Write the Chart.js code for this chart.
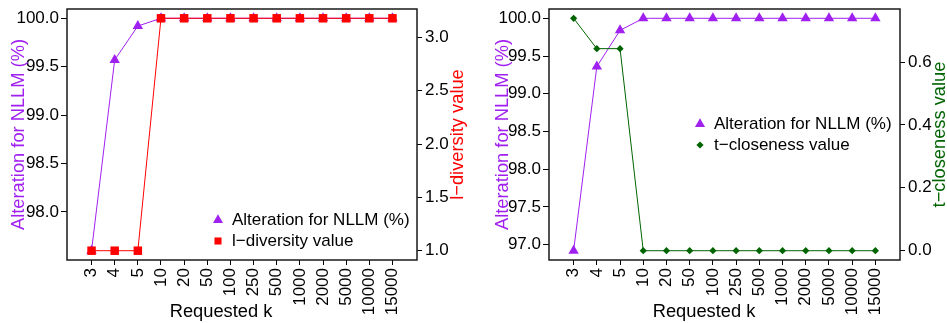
<!DOCTYPE html>
<html>
<head>
<meta charset="utf-8">
<script src="https://cdn.jsdelivr.net/npm/chart.js@4.4.0/dist/chart.umd.min.js"></script>
<style>
  body { margin: 0; background: #fff; }
  canvas { position: absolute; top: 0; }
</style>
</head>
<body>
<canvas id="leftChart" width="474" height="323" style="left:0px"></canvas>
<canvas id="rightChart" width="473" height="323" style="left:474px"></canvas>
<script>
// requested k values (x categories)
const kLabels = ["3", "4", "5", "10", "20", "50", "100", "250", "500", "1000", "2000", "5000", "10000", "15000"];

// left panel
const nllmLeft = [97.6, 99.57, 99.92, 100, 100, 100, 100, 100, 100, 100, 100, 100, 100, 100];
const lDiversity = [1, 1, 1, 3.18, 3.18, 3.18, 3.18, 3.18, 3.18, 3.18, 3.18, 3.18, 3.18, 3.18];
const nllmLeftTicks = [98.0, 98.5, 99.0, 99.5, 100.0];
const lDiversityTicks = [1.0, 1.5, 2.0, 2.5, 3.0];

// right panel
const nllmRight = [96.92, 99.36, 99.84, 100, 100, 100, 100, 100, 100, 100, 100, 100, 100, 100];
const tCloseness = [0.739, 0.6425, 0.6425, 0, 0, 0, 0, 0, 0, 0, 0, 0, 0, 0];
const nllmRightTicks = [97.0, 97.5, 98.0, 98.5, 99.0, 99.5, 100.0];
const tClosenessTicks = [0.0, 0.2, 0.4, 0.6];

const purple = "#A020F0";
const red = "#FF0000";
const green = "#006400";
const fontFamily = "'Liberation Sans', Arial, sans-serif";

Chart.defaults.font.family = fontFamily;
Chart.defaults.color = "#000";

// R style axis range: data range + 4% each side
const padRange = values => {
  const lo = Math.min(...values);
  const hi = Math.max(...values);
  const pad = (hi - lo) * 0.04;
  return { min: lo - pad, max: hi + pad };
};

const drawMarker = (ctx, style, x, y, r, color) => {
  ctx.save();
  ctx.fillStyle = color;
  ctx.beginPath();
  if (style === "triangle") {
    ctx.moveTo(x, y - r);
    ctx.lineTo(x + r * 0.866, y + r * 0.5);
    ctx.lineTo(x - r * 0.866, y + r * 0.5);
  } else if (style === "rect") {
    const s = r * Math.SQRT1_2;
    ctx.rect(x - s, y - s, 2 * s, 2 * s);
  } else {
    ctx.moveTo(x - r, y);
    ctx.lineTo(x, y - r);
    ctx.lineTo(x + r, y);
    ctx.lineTo(x, y + r);
  }
  ctx.closePath();
  ctx.fill();
  ctx.restore();
};

const makeSeries = (label, values, axis, color, style, radius, order) => ({
  label: label,
  data: values.map((v, i) => ({ x: i + 1, y: v })),
  yAxisID: axis,
  borderColor: color,
  backgroundColor: color,
  borderWidth: 1,
  pointStyle: style,
  pointRadius: radius,
  pointBorderWidth: 0,
  pointHoverRadius: radius,
  order: order,
  clip: false
});

// no extra room for half tick labels, the frame is fixed
const noPad = s => {
  s.paddingTop = 0;
  s.paddingBottom = 0;
  s.paddingLeft = 0;
  s.paddingRight = 0;
};

// frame, axis titles and the inside legend, R style
const decorations = {
  id: "decorations",
  afterDraw(chart) {
    const o = chart.options.plugins.decorations;
    const ctx = chart.ctx;
    const a = chart.chartArea;
    const cy = (a.top + a.bottom) / 2;
    ctx.save();
    ctx.strokeStyle = "#1a1a1a";
    ctx.lineWidth = 1.5;
    ctx.strokeRect(a.left, a.top, a.right - a.left, a.bottom - a.top);

    ctx.font = "18.3px " + fontFamily;
    ctx.textAlign = "center";
    ctx.textBaseline = "alphabetic";
    ctx.fillStyle = "#000";
    ctx.fillText("Requested k", o.xTitleX, 316.5);

    ctx.textBaseline = "middle";
    o.yTitles.forEach(t => {
      ctx.save();
      ctx.translate(t.x, cy);
      ctx.rotate(-Math.PI / 2);
      ctx.fillStyle = t.color;
      ctx.fillText(t.text, 0, 0);
      ctx.restore();
    });

    ctx.font = "17px " + fontFamily;
    ctx.textAlign = "left";
    ctx.fillStyle = "#000";
    o.legend.items.forEach((item, i) => {
      const y = o.legend.y + i * 21;
      drawMarker(ctx, item.style, o.legend.x, y, item.r, item.color);
      ctx.fillText(item.text, o.legend.x + 14, y);
    });
    ctx.restore();
  }
};

const makePanel = (id, p) => {
  const leftRange = padRange(p.leftValues);
  const rightRange = padRange(p.rightValues);
  return new Chart(document.getElementById(id), {
    type: "line",
    data: {
      datasets: [
        makeSeries("Alteration for NLLM (%)", p.leftValues, "y", purple, "triangle", 6, 1),
        makeSeries(p.rightLabel, p.rightValues, "y1", p.rightColor, p.rightStyle, p.rightRadius, 0)
      ]
    },
    options: {
      responsive: false,
      animation: false,
      layout: { padding: { top: 9, left: 0, right: 0, bottom: 0 } },
      plugins: {
        legend: { display: false },
        tooltip: { enabled: false },
        decorations: {
          xTitleX: p.xTitleX,
          yTitles: [
            { text: "Alteration for NLLM (%)", x: p.leftTitleX, color: purple },
            { text: p.rightTitle, x: p.rightTitleX, color: p.rightColor }
          ],
          legend: {
            x: p.legendX,
            y: p.legendY,
            items: [
              { text: "Alteration for NLLM (%)", style: "triangle", r: 5.8, color: purple },
              { text: p.rightLabel, style: p.rightStyle, r: p.rightLegendR, color: p.rightColor }
            ]
          }
        }
      },
      scales: {
        x: {
          type: "linear",
          min: -0.06,
          max: 15.06,
          afterFit: s => { s.height = 63; noPad(s); },
          afterBuildTicks: s => { s.ticks = kLabels.map((_, i) => ({ value: i + 1 })); },
          border: { display: false },
          grid: { drawOnChartArea: false, drawTicks: true, tickLength: 5, color: "#000", tickColor: "#000" },
          ticks: {
            autoSkip: false,
            minRotation: 90,
            maxRotation: 90,
            padding: 3,
            font: { size: 17 },
            callback: v => kLabels[v - 1]
          }
        },
        y: {
          position: "left",
          min: leftRange.min,
          max: leftRange.max,
          afterFit: s => { s.width = p.leftWidth; noPad(s); },
          afterBuildTicks: s => { s.ticks = p.leftTicks.map(v => ({ value: v })); },
          border: { display: false },
          grid: { drawOnChartArea: false, drawTicks: true, tickLength: 6, color: "#000" },
          ticks: { padding: 2, font: { size: 17 }, callback: v => v.toFixed(1) }
        },
        y1: {
          position: "right",
          min: rightRange.min,
          max: rightRange.max,
          afterFit: s => { s.width = p.rightWidth; noPad(s); },
          afterBuildTicks: s => { s.ticks = p.rightTicks.map(v => ({ value: v })); },
          border: { display: false },
          grid: { drawOnChartArea: false, drawTicks: true, tickLength: 5, color: "#000" },
          ticks: { padding: 3, font: { size: 17 }, callback: v => v.toFixed(1) }
        }
      }
    },
    plugins: [decorations]
  });
};

makePanel("leftChart", {
  leftValues: nllmLeft,
  rightValues: lDiversity,
  leftTicks: nllmLeftTicks,
  rightTicks: lDiversityTicks,
  rightLabel: "l\u2212diversity value",
  rightTitle: "l\u2212diversity value",
  rightColor: red,
  rightStyle: "rect",
  rightRadius: 6,
  rightLegendR: 5,
  leftWidth: 67,
  rightWidth: 57,
  leftTitleX: 19,
  rightTitleX: 458,
  xTitleX: 221,
  legendX: 218,
  legendY: 220
});

makePanel("rightChart", {
  leftValues: nllmRight,
  rightValues: tCloseness,
  leftTicks: nllmRightTicks,
  rightTicks: tClosenessTicks,
  rightLabel: "t\u2212closeness value",
  rightTitle: "t\u2212closeness value",
  rightColor: green,
  rightStyle: "rectRot",
  rightRadius: 3.6,
  rightLegendR: 3.6,
  leftWidth: 75,
  rightWidth: 47,
  leftTitleX: 29,
  rightTitleX: 466,
  xTitleX: 230,
  legendX: 226,
  legendY: 124
});
</script>
</body>
</html>
